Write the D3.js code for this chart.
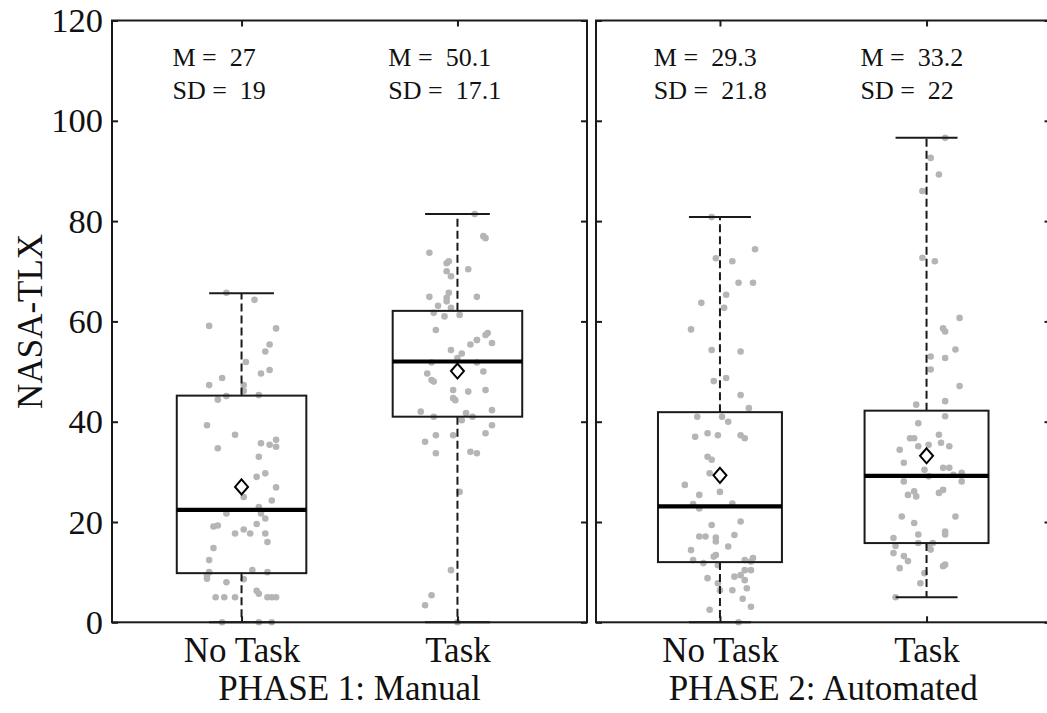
<!DOCTYPE html>
<html>
<head>
<meta charset="utf-8">
<script src="https://cdn.jsdelivr.net/npm/d3@7"></script>
<style>
  body { margin: 0; background: #fff; }
  svg text { font-family: "Liberation Serif", "Times New Roman", serif; fill: #111; }
</style>
</head>
<body>
<svg id="chart" width="1047" height="713"></svg>
<script>
// categories
const phases = ["PHASE 1: Manual", "PHASE 2: Automated"];
const conditions = ["No Task", "Task"];
const yTicks = [0, 20, 40, 60, 80, 100, 120];

// box stats, order: P1 No Task, P1 Task, P2 No Task, P2 Task
const q1s = [9.8, 41.0, 12.0, 15.8];
const medians = [22.4, 52.0, 23.1, 29.2];
const q3s = [45.2, 62.1, 41.9, 42.2];
const whiskLow = [0, 0, 0, 5.0];
const whiskHigh = [65.6, 81.4, 80.8, 96.6];
const means = [27, 50.1, 29.3, 33.2];
const sds = [19, 17.1, 21.8, 22];

// individual scores + horizontal jitter (in category units)
const scoresP1NoTask = [65.7,64.3,59.1,58.6,55.4,54.0,51.9,50.3,49.6,48.7,47.3,47.3,46.1,44.4,45.1,45.3,39.3,37.4,34.7,35.7,35.4,36.4,35.0,33.0,29.0,29.7,26.9,25.0,24.3,23.0,21.7,21.7,20.7,19.1,19.3,19.6,17.7,18.5,17.7,17.7,16.0,14.8,12.4,10.0,10.4,10.0,9.3,8.7,8.6,8.0,6.3,5.7,5.0,5.0,5.0,5.0,5.0,5.0,0,0,0];
const jitterP1NoTask = [-0.07,0.06,-0.15,0.16,0.13,0.11,0.02,0.13,0.09,-0.09,-0.15,0.01,0.01,-0.11,-0.07,0.08,-0.16,-0.03,-0.11,0.09,0.13,0.16,0.16,0.08,0.07,0.11,0.16,0.01,0.14,0.08,-0.07,0.09,0.11,-0.13,-0.11,0.07,-0.03,0.01,0.04,0.11,0.12,-0.13,-0.15,-0.15,0.05,0.12,-0.16,-0.16,0.01,-0.07,0.07,0.08,-0.12,-0.08,-0.03,0.12,0.14,0.16,-0.09,0.08,0.14];

const scoresP1Task = [81.4,77.0,76.6,73.7,72.0,71.6,70.0,70.4,69.0,64.9,65.7,64.7,64.0,64.9,63.1,62.7,61.7,61.0,61.3,58.3,57.7,57.3,55.7,56.3,56.3,55.4,54.3,53.6,52.7,51.8,51.8,49.6,48.3,48.0,50.0,46.3,46.0,46.3,44.7,44.3,42.0,41.0,41.7,41.0,42.3,40.3,39.3,37.3,37.3,37.7,36.0,33.7,34.0,33.7,26.0,10.4,5.4,3.4,0];
const jitterP1Task = [0.08,0.12,0.13,-0.13,-0.04,-0.05,-0.05,0.05,-0.03,-0.13,-0.04,-0.05,-0.05,0.09,-0.09,-0.03,-0.11,-0.06,0.01,-0.10,0.14,0.13,0.16,0.09,0.09,0.06,-0.03,0.02,0.00,-0.12,0.09,-0.14,-0.12,-0.11,0.12,-0.02,0.05,0.13,-0.02,-0.01,-0.17,-0.11,0.04,0.07,0.16,0.02,0.16,-0.10,-0.02,0.13,-0.15,-0.10,0.06,0.09,0.01,-0.03,-0.12,-0.15,0.00];

const scoresP2NoTask = [80.8,74.4,72.6,72.0,67.7,67.7,65.3,63.7,62.7,58.4,54.3,54.0,48.1,48.7,45.3,42.7,41.0,41.0,40.0,37.0,37.7,37.3,37.3,36.7,33.0,32.4,29.7,27.4,25.4,26.0,23.6,22.7,23.7,20.1,19.4,17.1,17.1,16.9,16.1,17.4,15.1,14.4,13.1,13.4,12.4,11.8,11.4,12.4,12.1,12.8,10.4,10.4,8.8,9.1,9.4,8.4,7.8,6.4,6.4,6.8,4.7,3.1,2.5,0];
const jitterP2NoTask = [-0.04,0.17,-0.02,0.06,0.09,0.16,0.03,-0.09,0.02,-0.14,-0.04,0.10,-0.03,0.03,0.10,0.14,-0.11,0.01,0.04,-0.12,-0.06,-0.01,0.10,0.12,-0.06,-0.04,-0.05,-0.17,-0.10,0.00,-0.13,-0.10,0.06,0.10,-0.04,-0.10,-0.07,-0.02,-0.02,0.07,0.04,-0.14,-0.03,-0.02,-0.13,-0.08,-0.01,0.12,0.15,0.16,0.12,0.15,-0.06,0.07,0.10,0.12,-0.01,0.00,0.06,0.13,0.11,0.15,-0.05,0.09];

const scoresP2Task = [96.6,92.6,89.3,86.0,72.7,72.0,60.7,58.6,58.0,54.4,53.0,52.7,50.4,47.1,44.1,43.4,41.1,39.7,36.7,36.7,37.4,35.8,35.1,35.4,35.1,34.4,31.8,30.4,30.8,30.8,29.1,29.4,29.8,28.1,28.1,26.1,25.4,25.1,25.8,26.4,21.1,21.1,19.8,17.5,18.1,17.5,16.8,15.2,13.8,15.8,15.8,15.2,14.5,13.2,12.2,10.8,11.2,11.5,9.8,7.8,5.0];
const jitterP2Task = [0.09,0.02,0.06,-0.02,-0.02,0.04,0.16,0.08,0.09,0.14,0.02,0.09,0.02,0.16,0.09,-0.05,0.09,-0.04,-0.08,-0.06,0.06,0.07,-0.04,0.01,0.11,-0.13,-0.11,-0.01,0.08,0.11,0.01,0.13,0.17,0.17,-0.11,-0.06,-0.09,-0.05,0.06,0.08,-0.12,0.14,-0.06,-0.04,0.09,0.09,-0.16,-0.15,-0.16,-0.04,0.03,0.01,0.02,-0.11,-0.09,-0.13,0.08,0.09,-0.01,-0.03,-0.15];

const scores = [scoresP1NoTask, scoresP1Task, scoresP2NoTask, scoresP2Task];
const jitters = [jitterP1NoTask, jitterP1Task, jitterP2NoTask, jitterP2Task];

const svg = d3.select("#chart");
const ink = "#1a1a1a";
const plotTop = 20.5, plotBottom = 622.3;

const y = d3.scaleLinear().domain([0, 120]).range([plotBottom, plotTop]);
const xScales = [
  d3.scaleLinear().domain([0.4, 2.6]).range([112, 587]),
  d3.scaleLinear().domain([0.4, 2.6]).range([596, 1050.5])
];

phases.forEach((phase, p) => {
  const x = xScales[p];
  const [x0, x1] = x.range();
  const g = svg.append("g");

  conditions.forEach((cond, c) => {
    const i = p * 2 + c;
    const pos = c + 1;
    const halfBox = 0.3, halfCap = 0.15;

    // jittered dots
    g.append("g").selectAll("circle")
      .data(scores[i].map((v, k) => ({ v: v, j: jitters[i][k] })))
      .join("circle")
      .attr("cx", d => x(pos + d.j))
      .attr("cy", d => y(d.v))
      .attr("r", 3.3)
      .attr("fill", "#b5b5b5");

    // whiskers
    g.append("line")
      .attr("x1", x(pos)).attr("x2", x(pos))
      .attr("y1", y(q3s[i])).attr("y2", y(whiskHigh[i]))
      .attr("stroke", ink).attr("stroke-width", 2).attr("stroke-dasharray", "8,4");
    g.append("line")
      .attr("x1", x(pos)).attr("x2", x(pos))
      .attr("y1", y(q1s[i])).attr("y2", y(whiskLow[i]))
      .attr("stroke", ink).attr("stroke-width", 2).attr("stroke-dasharray", "8,4");
    [whiskHigh[i], whiskLow[i]].forEach(w => {
      g.append("line")
        .attr("x1", x(pos - halfCap)).attr("x2", x(pos + halfCap))
        .attr("y1", y(w)).attr("y2", y(w))
        .attr("stroke", ink).attr("stroke-width", 2);
    });

    // box
    g.append("rect")
      .attr("x", x(pos - halfBox))
      .attr("width", x(pos + halfBox) - x(pos - halfBox))
      .attr("y", y(q3s[i]))
      .attr("height", y(q1s[i]) - y(q3s[i]))
      .attr("fill", "none").attr("stroke", ink).attr("stroke-width", 2);

    // median
    g.append("line")
      .attr("x1", x(pos - halfBox)).attr("x2", x(pos + halfBox))
      .attr("y1", y(medians[i])).attr("y2", y(medians[i]))
      .attr("stroke", "#000").attr("stroke-width", 4.2);

    // mean diamond
    const mx = x(pos), my = y(means[i]);
    g.append("path")
      .attr("d", `M${mx},${my - 7.5}L${mx + 6.5},${my}L${mx},${my + 7.5}L${mx - 6.5},${my}Z`)
      .attr("fill", "#fff").attr("stroke", "#000").attr("stroke-width", 2);

    // M / SD annotations
    g.append("text")
      .attr("x", x(pos - 0.32)).attr("y", y(110.9))
      .attr("font-size", 26).style("white-space", "pre")
      .text("M =  " + means[i]);
    g.append("text")
      .attr("x", x(pos - 0.32)).attr("y", y(104.3))
      .attr("font-size", 26).style("white-space", "pre")
      .text("SD =  " + sds[i]);
  });

  // axes with inward ticks
  const left = g.append("g").attr("transform", `translate(${x0},0)`)
    .call(d3.axisLeft(y).tickValues(yTicks).tickSize(-6).tickSizeOuter(0).tickPadding(9)
      .tickFormat(p === 0 ? d3.format("d") : ""));
  const right = g.append("g").attr("transform", `translate(${x1},0)`)
    .call(d3.axisRight(y).tickValues(yTicks).tickSize(-6).tickSizeOuter(0).tickFormat(""));
  const topAx = g.append("g").attr("transform", `translate(0,${plotTop})`)
    .call(d3.axisTop(x).tickValues([1, 2]).tickSize(-6).tickSizeOuter(0).tickFormat(""));
  const botAx = g.append("g").attr("transform", `translate(0,${plotBottom})`)
    .call(d3.axisBottom(x).tickValues([1, 2]).tickSize(-6).tickSizeOuter(0).tickPadding(15)
      .tickFormat(d => conditions[d - 1]));

  [left, right, topAx, botAx].forEach(a => {
    a.select(".domain").remove();
    a.selectAll(".tick line").attr("stroke", ink).attr("stroke-width", 2);
    a.selectAll(".tick text").attr("fill", "#111")
      .style("font-family", '"Liberation Serif", "Times New Roman", serif');
  });
  left.selectAll(".tick text").attr("font-size", 34.5);
  botAx.selectAll(".tick text").attr("font-size", 35);

  // frame
  g.append("rect")
    .attr("x", x0).attr("y", plotTop)
    .attr("width", x1 - x0).attr("height", plotBottom - plotTop)
    .attr("fill", "none").attr("stroke", ink).attr("stroke-width", 2);

  // phase label
  g.append("text")
    .attr("x", (x0 + x1) / 2).attr("y", 700)
    .attr("text-anchor", "middle").attr("font-size", 35)
    .text(phase);
});

// y axis title
svg.append("text")
  .attr("transform", `translate(42,${(plotTop + plotBottom) / 2}) rotate(-90)`)
  .attr("text-anchor", "middle").attr("font-size", 35)
  .text("NASA-TLX");
</script>
</body>
</html>
